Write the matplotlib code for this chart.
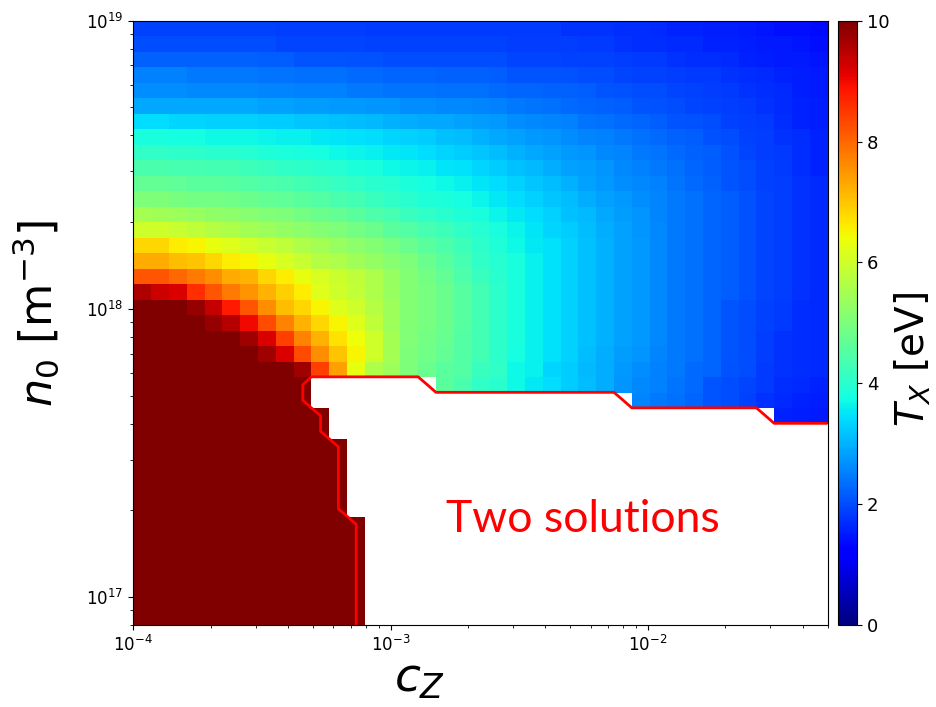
import numpy as np
import matplotlib
matplotlib.use("Agg")
from matplotlib import pyplot as plt

nan = np.nan

# grid edges of the scan (39 x 39 cells)
cz_min, cz_max = 1e-4, 5e-2
n0_min, n0_max = 8e16, 1e19
n_cells = 39

# T_X [eV] per row, from the top row (n0 = 1e19) down; 10.5 = above colour range, nan = two solutions
tx_top = [
    [1.9,1.9,1.9,1.9,1.9,1.9, 1.9,1.9,1.85,1.85,1.85, 1.85,1.85,1.8,1.8,1.8, 1.8,1.8,1.8,1.8, 1.8,1.8,1.8, 1.8,1.75,1.75,1.75, 1.7,1.7,1.65,1.6, 1.6,1.55,1.55,1.5, 1.45,1.4,1.4,1.35],
    [2.0,2.0,2.0,2.0,2.0,2.0, 2.0,2.0,1.95,1.95,1.95, 1.95,1.95,1.9,1.9,1.9, 1.9,1.9,1.9,1.9, 1.9,1.85,1.85, 1.85,1.85,1.8,1.8, 1.75,1.7,1.7,1.65, 1.65,1.6,1.6,1.55, 1.5,1.5,1.45,1.4],
    [2.2,2.2,2.2,2.2,2.2,2.2, 2.2,2.15,2.15,2.1,2.1, 2.1,2.05,2.05,2.0,2.0, 2.0,2.0,2.0,2.0, 2.0,1.95,1.95, 1.95,1.9,1.9,1.9, 1.85,1.8,1.8,1.75, 1.7,1.7,1.65,1.6, 1.55,1.5,1.5,1.45],
    [2.5,2.5,2.5,2.45,2.45,2.45, 2.45,2.4,2.4,2.35,2.35, 2.35,2.3,2.3,2.25,2.25, 2.25,2.2,2.2,2.2, 2.15,2.1,2.1, 2.1,2.05,2.0,2.0, 1.95,1.9,1.9,1.85, 1.8,1.8,1.75,1.7, 1.65,1.6,1.55,1.5],
    [2.65,2.65,2.65,2.6,2.6,2.6, 2.6,2.55,2.55,2.5,2.5, 2.5,2.45,2.45,2.4,2.4, 2.4,2.35,2.35,2.35, 2.3,2.25,2.25, 2.2,2.2,2.15,2.1, 2.05,2.0,2.0,1.95, 1.9,1.85,1.8,1.75, 1.7,1.65,1.55,1.5],
    [2.9,2.9,2.9,2.9,2.9,2.9, 2.9,2.85,2.85,2.8,2.8, 2.75,2.75,2.7,2.7,2.65, 2.65,2.6,2.6,2.55, 2.5,2.45,2.4, 2.35,2.3,2.25,2.2, 2.15,2.1,2.05,2.0, 1.95,1.9,1.85,1.8, 1.75,1.65,1.6,1.55],
    [3.4,3.4,3.35,3.35,3.3,3.3, 3.3,3.25,3.25,3.2,3.2, 3.15,3.1,3.05,3.0,2.95, 2.9,2.9,2.85,2.8, 2.75,2.65,2.6, 2.55,2.5,2.4,2.35, 2.3,2.25,2.15,2.1, 2.05,2.0,1.9,1.85, 1.8,1.7,1.6,1.55],
    [3.8,3.8,3.75,3.75,3.7,3.7, 3.7,3.65,3.6,3.6,3.55, 3.5,3.45,3.4,3.35,3.3, 3.25,3.15,3.1,3.0, 2.9,2.85,2.75, 2.7,2.65,2.55,2.5, 2.45,2.35,2.3,2.2, 2.15,2.05,2.0,1.9, 1.85,1.75,1.7,1.6],
    [4.1,4.1,4.05,4.05,4.0,4.0, 3.95,3.9,3.85,3.8,3.75, 3.7,3.65,3.6,3.55,3.5, 3.4,3.35,3.25,3.2, 3.1,3.0,2.9, 2.85,2.75,2.7,2.6, 2.55,2.45,2.4,2.3, 2.2,2.15,2.05,1.95, 1.85,1.8,1.7,1.6],
    [4.4,4.4,4.35,4.35,4.3,4.3, 4.25,4.2,4.1,4.05,4.0, 3.95,3.85,3.8,3.7,3.65, 3.6,3.5,3.45,3.35, 3.25,3.15,3.05, 2.95,2.85,2.8,2.7, 2.6,2.5,2.45,2.35, 2.25,2.15,2.1,2.0, 1.9,1.8,1.7,1.6],
    [4.7,4.7,4.65,4.6,4.6,4.55, 4.5,4.45,4.4,4.3,4.25, 4.15,4.1,4.0,3.95,3.85, 3.75,3.7,3.6,3.5, 3.4,3.3,3.2, 3.1,3.0,2.85,2.75, 2.65,2.6,2.5,2.4, 2.3,2.2,2.1,2.0, 1.9,1.85,1.75,1.65],
    [5.0,5.0,4.95,4.9,4.9,4.85, 4.8,4.7,4.65,4.6,4.5, 4.4,4.3,4.2,4.1,4.0, 3.9,3.85,3.75,3.65, 3.55,3.4,3.3, 3.2,3.1,2.95,2.85, 2.75,2.65,2.55,2.45, 2.35,2.25,2.15,2.05, 1.95,1.85,1.75,1.65],
    [5.5,5.45,5.4,5.35,5.25,5.2, 5.15,5.05,5.0,4.9,4.8, 4.7,4.6,4.45,4.35,4.2, 4.1,4.0,3.9,3.8, 3.65,3.55,3.4, 3.3,3.15,3.05,2.9, 2.8,2.7,2.55,2.45, 2.35,2.25,2.15,2.05, 1.95,1.85,1.75,1.65],
    [6.0,6.0,5.9,5.8,5.7,5.6, 5.5,5.4,5.3,5.2,5.1, 5.0,4.9,4.8,4.6,4.5, 4.35,4.25,4.1,3.95, 3.8,3.65,3.5, 3.35,3.25,3.1,2.95, 2.85,2.7,2.6,2.45, 2.35,2.25,2.15,2.05, 1.95,1.85,1.75,1.65],
    [6.8,6.8,6.6,6.5,6.3,6.2, 6.05,5.9,5.8,5.6,5.5, 5.35,5.2,5.1,4.95,4.8, 4.6,4.45,4.25,4.05, 3.9,3.7,3.55, 3.45,3.3,3.15,3.0, 2.85,2.75,2.6,2.45, 2.35,2.25,2.15,2.05, 1.95,1.85,1.75,1.65],
    [7.3,7.3,7.1,7.0,6.8,6.6, 6.5,6.3,6.1,5.9,5.7, 5.6,5.45,5.3,5.15,5.0, 4.8,4.6,4.35,4.1, 3.95,3.8,3.6, 3.45,3.3,3.15,3.0, 2.85,2.75,2.6,2.45, 2.35,2.25,2.15,2.05, 1.95,1.85,1.75,1.65],
    [8.2,8.2,8.0,7.8,7.6,7.3, 7.2,6.8,6.6,6.3,6.1, 5.95,5.8,5.6,5.35,5.1, 4.9,4.7,4.45,4.2, 4.0,3.8,3.6, 3.45,3.3,3.15,3.0, 2.85,2.75,2.6,2.45, 2.35,2.25,2.15,2.05, 1.95,1.85,1.75,1.65],
    [9.6,9.3,9.2,8.6,8.2,7.8, 7.5,7.2,6.9,6.6,6.2, 6.0,5.85,5.6,5.35,5.1, 4.95,4.8,4.55,4.3, 4.05,3.8,3.6, 3.45,3.3,3.15,3.0, 2.85,2.75,2.6,2.45, 2.35,2.25,2.15,2.05, 1.95,1.85,1.75,1.65],
]

tx_middle = [
    [10.5,10.5,10.2,9.8,9.4,8.8, 8.2,7.6,7.1,6.8,6.5, 6.2,6.0,5.7,5.4,5.1, 4.95,4.8,4.55,4.3, 4.05,3.8,3.6, 3.45,3.3,3.15,3.0, 2.85,2.75,2.6,2.45, 2.35,2.25,2.1,2.0, 1.9,1.8,1.7,1.65],
    [10.5,10.5,10.5,10.5,9.8,9.5, 9.0,8.3,7.7,7.2,6.8, 6.5,6.2,5.8,5.4,5.1, 4.95,4.8,4.55,4.3, 4.05,3.8,3.6, 3.45,3.3,3.15,3.0, 2.85,2.75,2.6,2.45, 2.35,2.25,2.1,2.0, 1.9,1.8,1.7,1.65],
    [10.5,10.5,10.5,10.5,10.5,10.5, 9.7,9.2,8.4,7.7,7.2, 6.7,6.4,6.0,5.5,5.05, 4.9,4.75,4.5,4.3, 4.05,3.8,3.6, 3.45,3.3,3.15,3.0, 2.85,2.75,2.6,2.45, 2.35,2.25,2.1,2.0, 1.85,1.75,1.7,1.65],
    [10.5]*7 + [9.7,9.2,8.3,7.6, 7.0,6.5,6.0,5.5,5.0, 4.85,4.7,4.5,4.3, 4.05,3.75,3.6, 3.45,3.3,3.1,2.95, 2.8,2.7,2.55,2.45, 2.35,2.25,2.1,2.0, 1.85,1.75,1.7,1.65],
    [10.5]*9 + [9.7,8.4, 7.4,6.3,5.6,5.4,5.0, 4.8,4.6,4.5,4.2, 4.1,3.7,3.6, 3.35,3.25,3.05,2.95, 2.75,2.65,2.5,2.45, 2.3,2.25,2.05,2.0, 1.8,1.75,1.7,1.65],
    [10.5]*10 + [nan]*7 + [4.6,4.4,4.1, 4.0,3.7,3.55, 3.4,3.25,3.1,2.95, 2.7,2.6,2.5,2.4, 2.3,2.1,2.0,1.95, 1.8,1.7,1.65,1.6],
    [10.5]*10 + [nan]*18 + [2.55,2.45,2.35,2.25,2.1,2.0,1.9,1.75,1.65,1.6,1.55],
    [10.5]*11 + [nan]*25 + [1.6,1.55,1.5],
    [10.5]*11 + [nan]*28,
]

tx_bottom = [[10.5]*12 + [nan]*27] * 5 + [[10.5]*13 + [nan]*26] * 7


def build_grid():
    rows = tx_top + tx_middle + tx_bottom
    tx = np.array(rows[::-1], dtype=float)  # bottom row first
    cz_edges = np.logspace(np.log10(cz_min), np.log10(cz_max), n_cells + 1)
    n0_edges = np.logspace(np.log10(n0_min), np.log10(n0_max), n_cells + 1)
    return cz_edges, n0_edges, tx


def two_solution_line(cz_edges, n0_edges, tx):
    # boundary of the two-solution (white) region
    two = np.isnan(tx).astype(float)
    two = np.hstack([two, two[:, -1:]])
    two = np.vstack([two[:1], two])
    xn = cz_edges.copy()
    n0_mid = np.sqrt(n0_edges[:-1] * n0_edges[1:])
    yn = np.insert(n0_mid, 0, n0_edges[0])
    return xn, yn, two


def main():
    cz_edges, n0_edges, tx = build_grid()

    fig = plt.figure(figsize=(9.37, 7.07), dpi=100)
    ax = fig.add_axes([0.1423, 0.116, 0.7409, 0.8547])
    cax = fig.add_axes([0.8943, 0.116, 0.0203, 0.8547])

    mesh = ax.pcolormesh(cz_edges, n0_edges, np.ma.masked_invalid(tx),
                         cmap="jet", vmin=0, vmax=10, shading="flat")
    xn, yn, two = two_solution_line(cz_edges, n0_edges, tx)
    ax.contour(xn, yn, two, levels=[0.5], colors="red", linewidths=2)

    ax.set_xscale("log")
    ax.set_yscale("log")
    ax.set_xlim(cz_min, cz_max)
    ax.set_ylim(n0_min, n0_max)
    ax.tick_params(labelsize=12)
    ax.set_xlabel("$c_Z$", fontsize=34)
    ax.xaxis.set_label_coords(0.413, -0.052, transform=ax.transAxes)
    ax.xaxis.label.set_va("top")
    ax.set_ylabel("$n_0$ [m$^{-3}$]", fontsize=32)
    ax.yaxis.set_label_coords(-0.103, 0.515, transform=ax.transAxes)

    ax.text(0.648, 0.174, "Two solutions", transform=ax.transAxes, color="red",
            fontsize=32, family="Lato", ha="center", va="center")

    cb = fig.colorbar(mesh, cax=cax, ticks=[0, 2, 4, 6, 8, 10])
    cb.ax.tick_params(labelsize=13)
    cb.set_label("$T_X$ [eV]", fontsize=28)
    cb.ax.yaxis.set_label_coords(2.9, 0.44, transform=cb.ax.transAxes)

    fig.savefig("out.png", dpi=100)


if __name__ == '__main__':
    main()
